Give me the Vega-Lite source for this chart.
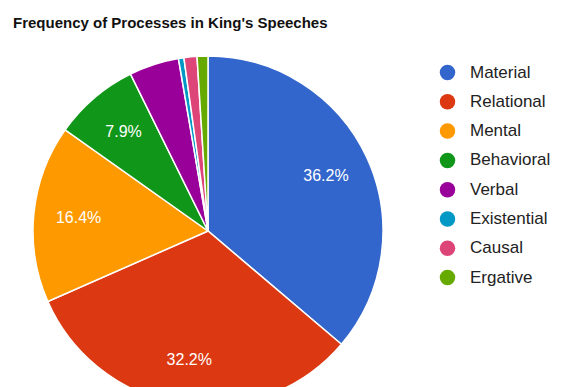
{
  "$schema": "https://vega.github.io/schema/vega-lite/v6.json",
  "autosize": "none",
  "width": 416,
  "height": 372,
  "padding": {"top": 45, "left": 0, "right": 157, "bottom": 0},
  "background": "white",
  "title": {
    "text": "Frequency of Processes in King's Speeches",
    "anchor": "start",
    "frame": "group",
    "font": "Liberation Sans",
    "fontSize": 15,
    "fontWeight": "bold",
    "color": "#111111",
    "offset": 14,
    "dx": 13
  },
  "config": {"view": {"stroke": null}},
  "data": {
    "values": [
      {"rank": 1, "process": "Material", "share": 0.362},
      {"rank": 2, "process": "Relational", "share": 0.322},
      {"rank": 3, "process": "Mental", "share": 0.164},
      {"rank": 4, "process": "Behavioral", "share": 0.079},
      {"rank": 5, "process": "Verbal", "share": 0.046},
      {"rank": 6, "process": "Existential", "share": 0.005},
      {"rank": 7, "process": "Causal", "share": 0.012},
      {"rank": 8, "process": "Ergative", "share": 0.010}
    ]
  },
  "encoding": {
    "theta": {"field": "share", "type": "quantitative", "stack": true},
    "order": {"field": "rank", "type": "quantitative"},
    "color": {
      "field": "process",
      "type": "nominal",
      "scale": {
        "domain": ["Material", "Relational", "Mental", "Behavioral", "Verbal", "Existential", "Causal", "Ergative"],
        "range": ["#3366cc", "#dc3912", "#ff9900", "#109618", "#990099", "#0099c6", "#dd4477", "#66aa00"]
      },
      "legend": {
        "title": null,
        "orient": "none",
        "legendX": 439,
        "legendY": 19,
        "symbolType": "circle",
        "symbolSize": 240,
        "symbolStrokeWidth": 0,
        "labelFont": "Liberation Sans",
        "labelFontSize": 17,
        "labelColor": "#222222",
        "rowPadding": 11.3,
        "labelOffset": 14
      }
    }
  },
  "layer": [
    {
      "mark": {"type": "arc", "outerRadius": 175, "stroke": "white", "strokeWidth": 1.5}
    },
    {
      "transform": [{"filter": "datum.share >= 0.05"}],
      "mark": {"type": "text", "radius": 130, "font": "Liberation Sans", "fontSize": 16, "fill": "white"},
      "encoding": {
        "text": {"field": "share", "type": "quantitative", "format": ".1%"},
        "color": {"value": "white"}
      }
    }
  ]
}
